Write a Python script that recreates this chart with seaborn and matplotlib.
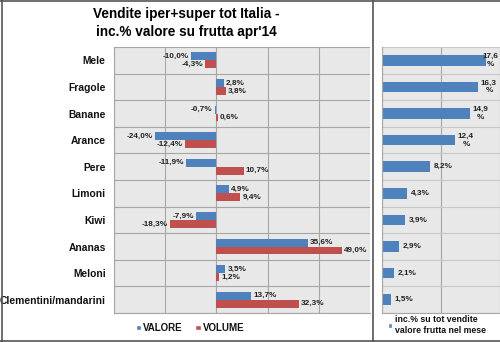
import matplotlib
matplotlib.use("Agg")
import matplotlib.pyplot as plt
import seaborn as sns
import pandas as pd
import numpy as np
from matplotlib.lines import Line2D
from matplotlib.patches import Patch

categories = ["Mele", "Fragole", "Banane", "Arance", "Pere", "Limoni", "Kiwi",
              "Ananas", "Meloni", "Clementini/mandarini"]
valore = [-10.0, 2.8, -0.7, -24.0, -11.9, 4.9, -7.9, 35.6, 3.5, 13.7]
volume = [-4.3, 3.8, 0.6, -12.4, 10.7, 9.4, -18.3, 49.0, 1.2, 32.3]
incidenza = [17.6, 16.3, 14.9, 12.4, 8.2, 4.3, 3.9, 2.9, 2.1, 1.5]
series_names = ["VALORE", "VOLUME"]
title = "Vendite iper+super tot Italia -\ninc.% valore su frutta apr'14"
right_legend = "inc.% su tot vendite\nvalore frutta nel mese"

BLUE = "#4F81BD"
RED = "#C0504D"
BG = "#E8E8E8"
GRID = "#A6A6A6"
TXT = "#111111"

sns.set_theme(style="white")
plt.rcParams['font.family'] = ['Liberation Sans', 'DejaVu Sans']
plt.rcParams['text.color'] = TXT

def fmt(v):
    return f"{v:.1f}".replace('.', ',') + "%"

df = pd.DataFrame({
    "cat": categories * 2,
    "val": valore + volume,
    "serie": [series_names[0]] * len(categories) + [series_names[1]] * len(categories),
})
df_r = pd.DataFrame({"cat": categories, "val": incidenza})

fig = plt.figure(figsize=(5.0, 3.42), dpi=100)
W, H = 500, 342

def box(x0, y0, x1, y1):
    return [x0 / W, 1 - y1 / H, (x1 - x0) / W, (y1 - y0) / H]

ax = fig.add_axes(box(114, 47, 370, 313))
sns.barplot(data=df, x="val", y="cat", hue="serie", order=categories,
            hue_order=series_names, palette=[BLUE, RED], orient="h",
            width=0.6, gap=0, saturation=1, ax=ax, legend=False, edgecolor="none")
ax.set_xlim(-40, 60)
ax.set_xticks([-40, -20, 0, 20, 40, 60])
ax.set_xticklabels([])
ax.set_yticks(np.arange(len(categories)))
ax.set_yticklabels(categories, fontsize=7.4, fontweight="bold", color=TXT)
ax.set_yticks(np.arange(len(categories) + 1) - 0.5, minor=True)
ax.set_ylim(len(categories) - 0.5, -0.5)
ax.tick_params(axis="both", which="both", length=0, pad=6)
ax.set_xlabel("")
ax.set_ylabel("")
ax.set_facecolor(BG)
ax.grid(True, axis="x", which="major", color=GRID, lw=0.8)
ax.grid(True, axis="y", which="minor", color=GRID, lw=0.8)
ax.set_axisbelow(True)
for s in ax.spines.values():
    s.set_color(GRID)
    s.set_linewidth(0.8)
ax.spines["top"].set_visible(False)
ax.spines["right"].set_visible(False)

for cont, vals in zip(ax.containers, [valore, volume]):
    ax.bar_label(cont, labels=[fmt(v) for v in vals], padding=1.5,
                 fontsize=5.9, fontweight="bold", color="#222222")

# left legend
handles = [Patch(facecolor=BLUE), Patch(facecolor=RED)]
fig.legend(handles, series_names, loc="center", bbox_to_anchor=(190 / W, 1 - 328 / H),
           ncol=2, frameon=False, handlelength=0.55, handleheight=0.55,
           handletextpad=0.2, columnspacing=1.3, prop={"weight": "bold", "size": 7})

# right chart
ax2 = fig.add_axes(box(382, 47, 500, 313))
sns.barplot(data=df_r, x="val", y="cat", order=categories, color=BLUE, orient="h",
            width=0.4, saturation=1, ax=ax2, edgecolor="none")
ax2.set_xlim(0, 20)
ax2.set_xticks([0, 10, 20])
ax2.set_xticklabels([])
ax2.set_yticks(np.arange(len(categories) + 1) - 0.5, minor=True)
ax2.set_yticks([])
ax2.set_ylim(len(categories) - 0.5, -0.5)
ax2.tick_params(axis="both", which="both", length=0)
ax2.set_xlabel("")
ax2.set_ylabel("")
ax2.set_facecolor(BG)
ax2.grid(True, axis="x", which="major", color=GRID, lw=0.8)
ax2.grid(True, axis="y", which="minor", color="#C8C8C8", lw=0.8)
ax2.set_axisbelow(True)
for s in ax2.spines.values():
    s.set_color(GRID)
    s.set_linewidth(0.8)
ax2.spines["top"].set_visible(False)
ax2.spines["right"].set_visible(False)

wrapped = [fmt(v)[:-1] + "\n%" if v >= 10 else "" for v in incidenza]
single = ["" if v >= 10 else fmt(v) for v in incidenza]
ax2.bar_label(ax2.containers[0], labels=single, padding=2.5, fontsize=5.9,
              fontweight="bold", color="#222222")
first = ax2.containers[0]
ax2.bar_label(first, labels=[wrapped[0]] + [""] * (len(incidenza) - 1), padding=-2.5,
              fontsize=5.9, fontweight="bold", color="#222222", multialignment="center")
ax2.bar_label(first, labels=[""] + wrapped[1:], padding=2, fontsize=5.9,
              fontweight="bold", color="#222222", multialignment="center")

fig.legend([Patch(facecolor=BLUE)], [right_legend], loc="center",
           bbox_to_anchor=(437 / W, 1 - 325 / H), frameon=False,
           handlelength=0.5, handleheight=0.5, handletextpad=0.3,
           prop={"weight": "bold", "size": 6.3})

fig.text(186 / W, 1 - 23 / H, title, ha="center", va="center", fontsize=9.8,
         fontweight="bold", linespacing=1.3, color="black")

# frame lines
fig.add_artist(Line2D([1.5 / W, 1.5 / W], [0, 1], color="#555555", lw=1.2, transform=fig.transFigure))
fig.add_artist(Line2D([0, 1], [1 - 1 / H, 1 - 1 / H], color="#555555", lw=1.2, transform=fig.transFigure))
fig.add_artist(Line2D([0, 1], [1 - 340.5 / H, 1 - 340.5 / H], color="#555555", lw=1.2, transform=fig.transFigure))
fig.add_artist(Line2D([373 / W, 373 / W], [0, 1], color="#555555", lw=1.2, transform=fig.transFigure))

fig.savefig("out.png", dpi=100)
